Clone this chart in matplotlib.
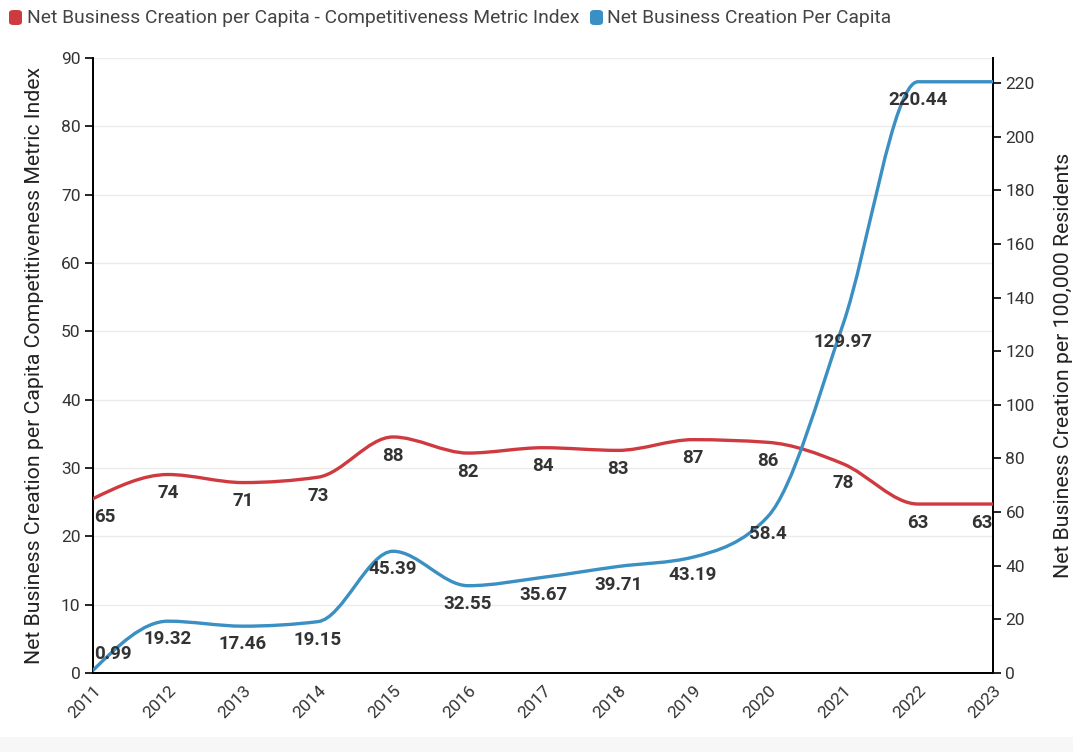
import numpy as np
import matplotlib
matplotlib.use("Agg")
import matplotlib.pyplot as plt
from matplotlib.path import Path
from matplotlib.patches import PathPatch, FancyBboxPatch, Rectangle

plt.rcParams['font.family'] = ['Roboto', 'DejaVu Sans']

years = [2011, 2012, 2013, 2014, 2015, 2016, 2017, 2018, 2019, 2020, 2021, 2022, 2023]
index_values = [65, 74, 71, 73, 88, 82, 84, 83, 87, 86, 78, 63, 63]
per_capita_values = [0.99, 19.32, 17.46, 19.15, 45.39, 32.55, 35.67, 39.71, 43.19, 58.4, 129.97, 220.44, 220.44]
per_capita_show = [True] * 12 + [False]

series_red_name = "Net Business Creation per Capita - Competitiveness Metric Index"
series_blue_name = "Net Business Creation Per Capita"
left_label = "Net Business Creation per Capita Competitiveness Metric Index"
right_label = "Net Business Creation per 100,000 Residents"

RED = "#cf3a40"
BLUE = "#3a8fc3"
TXT = "#333333"


def monotone_path(x, y):
    x = np.asarray(x, float)
    y = np.asarray(y, float)
    n = len(x)
    h = np.diff(x)
    s = np.diff(y) / h
    t = np.zeros(n)
    for i in range(1, n - 1):
        h0, h1 = h[i - 1], h[i]
        s0, s1 = s[i - 1], s[i]
        p = (s0 * h1 + s1 * h0) / (h0 + h1)
        t[i] = (np.sign(s0) + np.sign(s1)) * min(abs(s0), abs(s1), 0.5 * abs(p))
    t[0] = (3 * s[0] - t[1]) / 2
    t[-1] = (3 * s[-1] - t[-2]) / 2
    verts = [(x[0], y[0])]
    codes = [Path.MOVETO]
    for i in range(n - 1):
        dx = (x[i + 1] - x[i]) / 3
        verts += [(x[i] + dx, y[i] + dx * t[i]),
                  (x[i + 1] - dx, y[i + 1] - dx * t[i + 1]),
                  (x[i + 1], y[i + 1])]
        codes += [Path.CURVE4] * 3
    return Path(verts, codes)


fig = plt.figure(figsize=(10.73, 7.52), dpi=100)
ax = fig.add_axes([93 / 1073, 79 / 752, 900 / 1073, 615 / 752])
ax2 = ax.twinx()

ax.set_xlim(years[0], years[-1])
ax.set_ylim(0, 90)
ax2.set_ylim(0, 229.3)
ax.set_yticks(np.arange(0, 91, 10))
ax2.set_yticks(np.arange(0, 221, 20))
ax.set_xticks(years)
ax.set_xticklabels([str(y) for y in years], rotation=45, ha='right',
                   rotation_mode='anchor', fontsize=12.5, color=TXT)
ax.tick_params(axis='x', length=0, pad=7)
ax.tick_params(axis='y', length=6, width=1.2, color='black', labelsize=12.5,
               labelcolor=TXT, pad=3)
ax2.tick_params(axis='y', length=6, width=1.2, color='black', labelsize=12.5,
                labelcolor=TXT, pad=3)
ax.grid(axis='y', color='#ebebeb', linewidth=1)
ax.set_axisbelow(True)
for a in (ax, ax2):
    a.spines['top'].set_visible(False)
    for sp in ('left', 'right', 'bottom'):
        a.spines[sp].set_color('black')
        a.spines[sp].set_linewidth(1.3)

ax.set_ylabel(left_label, fontsize=15.3, color='#222222')
ax2.set_ylabel(right_label, fontsize=15.3, color='#222222')
ax.yaxis.set_label_coords((44 - 93) / 900, 0.5)
ax2.yaxis.set_label_coords((1054 - 93) / 900, 0.5)

for vals, col in ((index_values, RED), (per_capita_values, BLUE)):
    patch = PathPatch(monotone_path(years, vals), facecolor='none',
                      edgecolor=col, linewidth=2.4, capstyle='round',
                      joinstyle='round', zorder=3)
    ax2.add_patch(patch)

def put_label(x, y, text, i, n, dy):
    ha = 'center'
    dx = 0
    if i == 0:
        ha = 'left'
        dx = 0.5
    elif i == n - 1:
        ha = 'right'
        dx = -0.5
    ax2.annotate(text, (x, y), xytext=(dx, dy), textcoords='offset points',
                 ha=ha, va='center', fontsize=13.5, fontweight='bold',
                 color=TXT, zorder=5, annotation_clip=False)

n = len(years)
for i, (x, v) in enumerate(zip(years, index_values)):
    put_label(x, v, f"{v:g}", i, n, -13.5)
for i, (x, v) in enumerate(zip(years, per_capita_values)):
    if per_capita_show[i]:
        dy = 11.5 if i == 0 else -13
        put_label(x, v, f"{v:g}", i, n, dy)

# legend
fig.patches.append(FancyBboxPatch((9 / 1073, 1 - 25 / 752), 13 / 1073, 15 / 752,
                                  boxstyle="round,pad=0,rounding_size=0.004",
                                  transform=fig.transFigure, facecolor=RED,
                                  edgecolor='none'))
fig.text(27 / 1073, 1 - 18 / 752, series_red_name, fontsize=13.9,
         color='#444444', va='center', ha='left')
fig.patches.append(FancyBboxPatch((590 / 1073, 1 - 25 / 752), 13 / 1073, 15 / 752,
                                  boxstyle="round,pad=0,rounding_size=0.004",
                                  transform=fig.transFigure, facecolor=BLUE,
                                  edgecolor='none'))
fig.text(607 / 1073, 1 - 18 / 752, series_blue_name, fontsize=13.9,
         color='#444444', va='center', ha='left')

fig.patches.append(Rectangle((0, 0), 1, 15 / 752, transform=fig.transFigure,
                             facecolor='#f7f7f7', edgecolor='none'))

fig.savefig("out.png", dpi=100)
